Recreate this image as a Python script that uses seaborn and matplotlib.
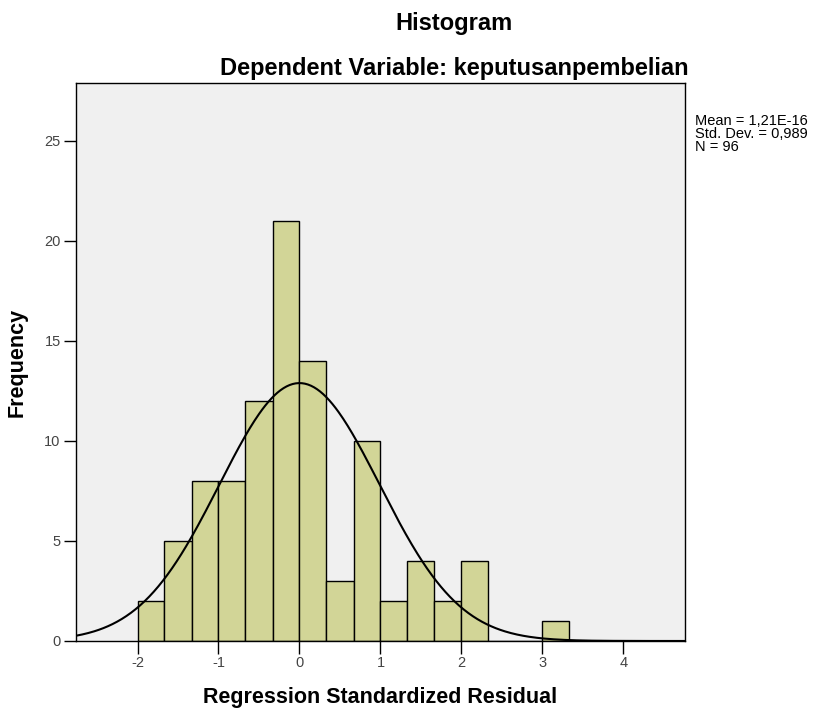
import numpy as np
import pandas as pd
import matplotlib
matplotlib.use("Agg")
import matplotlib.pyplot as plt
import seaborn as sns

# histogram bins (width 1/3) and counts
bin_edges = [-2.0, -1.667, -1.333, -1.0, -0.667, -0.333, 0.0, 0.333, 0.667,
             1.0, 1.333, 1.667, 2.0, 2.333, 2.667, 3.0, 3.333]
counts = [2, 5, 8, 8, 12, 21, 14, 3, 10, 2, 4, 2, 4, 0, 0, 1]

# summary stats shown on the chart
mean = 1.21e-16
std_dev = 0.989
n_obs = 96

x_ticks = [-2, -1, 0, 1, 2, 3, 4]
y_ticks = [0, 5, 10, 15, 20, 25]

edges = np.array(bin_edges)
df = pd.DataFrame({"resid": (edges[:-1] + edges[1:]) / 2, "count": counts})

plt.rcParams['font.family'] = ['Liberation Sans', 'DejaVu Sans']
plt.rcParams['axes.unicode_minus'] = False

fig = plt.figure(figsize=(8.23, 7.13), dpi=100)
ax = fig.add_axes([0.0923, 0.1010, 0.740, 0.7826])
ax.set_facecolor('#f0f0f0')

sns.histplot(data=df, x='resid', weights='count', bins=bin_edges, ax=ax,
             color='#d2d597', alpha=1, edgecolor='black', linewidth=1.0)

# fitted normal curve
xlim = (-2.76, 4.76)
bw = edges[1] - edges[0]
xs = np.linspace(xlim[0], xlim[1], 400)
ys = n_obs * bw / (std_dev * np.sqrt(2 * np.pi)) * np.exp(-0.5 * ((xs - mean) / std_dev) ** 2)
sns.lineplot(x=xs, y=ys, ax=ax, color='black', linewidth=1.5)

ax.set_xlim(*xlim)
ax.set_ylim(0, 27.9)
ax.set_xticks(x_ticks)
ax.set_yticks(y_ticks)
ax.tick_params(direction='out', length=9, width=1, labelsize=10.5,
               labelcolor='#444444', pad=2)
for s in ax.spines.values():
    s.set_color('black')
    s.set_linewidth(1.0)

ax.set_xlabel('Regression Standardized Residual', fontsize=15.5, fontweight='bold', labelpad=12)
ax.set_ylabel('Frequency', fontsize=15.5, fontweight='bold', labelpad=12)

fig.text(454 / 823, 1 - 30 / 713, 'Histogram', ha='center', va='baseline',
         fontsize=17, fontweight='bold')
fig.text(454 / 823, 1 - 75 / 713, 'Dependent Variable: keputusanpembelian',
         ha='center', va='baseline', fontsize=17, fontweight='bold')

stats = 'Mean = 1,21E-16\nStd. Dev. = 0,989\nN = 96'
fig.text(695 / 823, 1 - 114 / 713, stats, ha='left', va='top', fontsize=10.5,
         linespacing=0.92)

fig.savefig('out.png', dpi=100)
